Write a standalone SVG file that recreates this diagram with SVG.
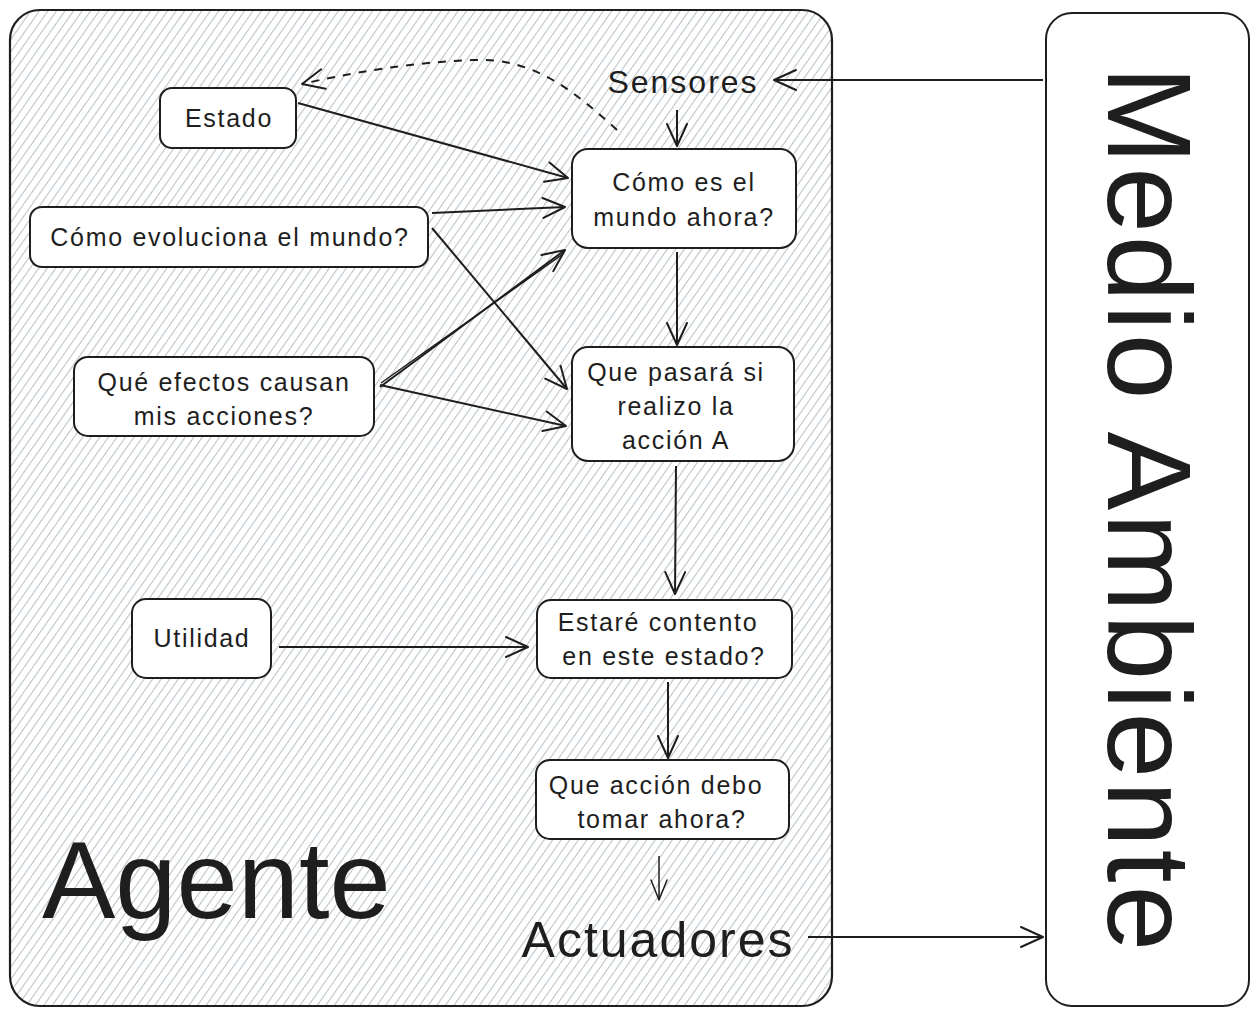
<svg xmlns="http://www.w3.org/2000/svg" width="1258" height="1017" viewBox="0 0 1258 1017">
<style>
.box{fill:#ffffff;stroke:#1e1e1e;stroke-width:2}
.t{font-family:"Liberation Sans",Arial,sans-serif;font-size:25px;fill:#1e1e1e;text-anchor:middle;letter-spacing:1.7px}
.big{font-family:"Liberation Sans",Arial,sans-serif;fill:#1e1e1e}
.c{fill:none;stroke:#1e1e1e;stroke-width:2;marker-end:url(#ah)}
</style>
<defs>
<pattern id="hatch" width="7" height="7" patternUnits="userSpaceOnUse" patternTransform="rotate(35)">
<line x1="3.5" y1="0" x2="3.5" y2="7" stroke="#bcc3cb" stroke-width="1.1"/>
</pattern>
<marker id="ah" viewBox="-24 -12 26 24" markerWidth="26" markerHeight="24" refX="0" refY="0" orient="auto" markerUnits="userSpaceOnUse">
<path d="M-22,-10 L0,0 L-22,10" fill="none" stroke="#1e1e1e" stroke-width="2" stroke-linecap="round" stroke-linejoin="round"/>
</marker>
<marker id="ahs" viewBox="-24 -12 26 24" markerWidth="26" markerHeight="24" refX="0" refY="0" orient="auto" markerUnits="userSpaceOnUse">
<path d="M-20,-8 L0,0 L-20,8" fill="none" stroke="#1e1e1e" stroke-width="1.5" stroke-linecap="round" stroke-linejoin="round"/>
</marker>
</defs>
<rect width="1258" height="1017" fill="#ffffff"/>

<g id="agente">
<rect x="10" y="10" width="822" height="996" rx="30" fill="url(#hatch)" stroke="#1e1e1e" stroke-width="2.2"/>
<text class="big" x="42" y="918" font-size="110">Agente</text>
</g>

<g id="medio-ambiente">
<rect x="1046" y="13" width="203" height="993" rx="26" class="box" stroke-width="2.5"/>
<text class="big" transform="translate(1108,510) rotate(90)" x="0" y="0" font-size="118" text-anchor="middle" letter-spacing="3">Medio Ambiente</text>
</g>

<g id="sensores">
<text class="big" x="683" y="93" font-size="32" text-anchor="middle" letter-spacing="2">Sensores</text>
</g>

<g id="actuadores">
<text class="big" x="658" y="957" font-size="50" text-anchor="middle" letter-spacing="2">Actuadores</text>
</g>

<g id="estado">
<rect x="160" y="88" width="136" height="60" rx="12" class="box"/>
<text class="t" x="229" y="127" letter-spacing="3">Estado</text>
</g>

<g id="como-evoluciona">
<rect x="30" y="207" width="398" height="60" rx="12" class="box"/>
<text class="t" x="230" y="246">Cómo evoluciona el mundo?</text>
</g>

<g id="como-es">
<rect x="572" y="149" width="224" height="99" rx="16" class="box"/>
<text class="t" x="684" y="191">Cómo es el</text>
<text class="t" x="684" y="226">mundo ahora?</text>
</g>

<g id="que-efectos">
<rect x="74" y="357" width="300" height="79" rx="14" class="box"/>
<text class="t" x="224" y="391">Qué efectos causan</text>
<text class="t" x="224" y="425">mis acciones?</text>
</g>

<g id="que-pasara">
<rect x="572" y="347" width="222" height="114" rx="16" class="box"/>
<text class="t" x="676" y="381">Que pasará si</text>
<text class="t" x="676" y="415">realizo la</text>
<text class="t" x="676" y="449">acción A</text>
</g>

<g id="utilidad">
<rect x="132" y="599" width="139" height="79" rx="14" class="box"/>
<text class="t" x="202" y="647">Utilidad</text>
</g>

<g id="estare-contento">
<rect x="537" y="600" width="255" height="78" rx="14" class="box"/>
<text class="t" x="658" y="631">Estaré contento</text>
<text class="t" x="664" y="665">en este estado?</text>
</g>

<g id="que-accion">
<rect x="536" y="760" width="253" height="79" rx="14" class="box"/>
<text class="t" x="656" y="794">Que acción debo</text>
<text class="t" x="662" y="828">tomar ahora?</text>
</g>

<g id="connectors">
<line class="c" x1="1043" y1="80" x2="774" y2="80"/>
<line class="c" x1="677" y1="110" x2="677" y2="146"/>
<path class="c" d="M617,130 C575,92 535,58 475,60 C410,62 345,74 302,84" stroke-dasharray="8 8"/>
<line class="c" x1="298" y1="103" x2="568" y2="178"/>
<line class="c" x1="432" y1="213" x2="565" y2="207"/>
<line class="c" x1="432" y1="228" x2="567" y2="389"/>
<line x1="381" y1="383" x2="563" y2="254" stroke="#1e1e1e" stroke-width="1.5"/>
<line class="c" x1="380" y1="387" x2="565" y2="250"/>
<line class="c" x1="380" y1="385" x2="566" y2="426"/>
<line class="c" x1="677" y1="252" x2="677" y2="345"/>
<line class="c" x1="676" y1="466" x2="675" y2="594"/>
<line class="c" x1="279" y1="647" x2="528" y2="647"/>
<line class="c" x1="668" y1="682" x2="668" y2="758"/>
<line x1="659" y1="856" x2="659" y2="900" fill="none" stroke="#1e1e1e" stroke-width="1.5" marker-end="url(#ahs)"/>
<line class="c" x1="808" y1="937" x2="1043" y2="937"/>
</g>
</svg>
